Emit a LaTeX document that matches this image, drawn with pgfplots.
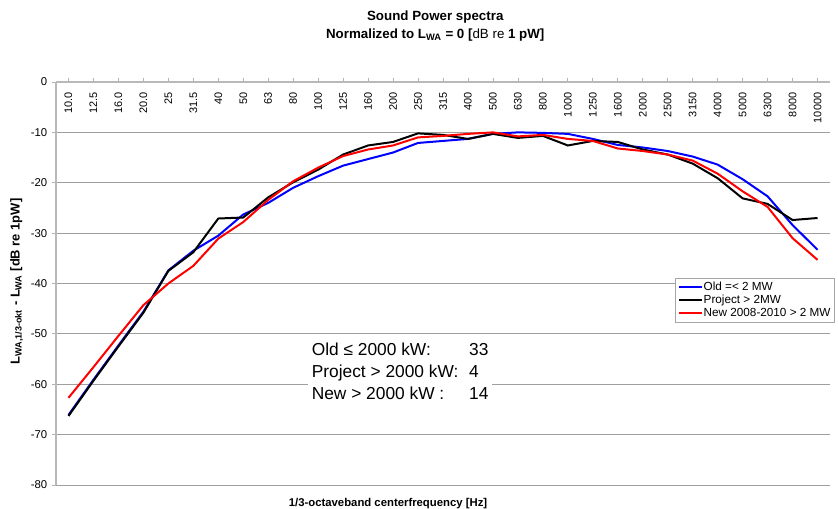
\documentclass[border=0pt]{standalone}
\usepackage{fontspec}
\setmainfont{Liberation Sans}
\usepackage{pgfplots}
\usepackage{pgfplotstable}
\pgfplotsset{compat=1.18}

% 1/3-octave band index, normalized levels per turbine group
\pgfplotstableread{
i   old    project  new
0   -66.1  -66.3   -62.7
1   -59.1  -59.3   -56.6
2   -52.3  -52.5   -50.4
3   -45.6  -45.8   -44.3
4   -37.4  -37.5   -40.0
5   -33.5  -33.8   -36.5
6   -30.5  -27.1   -31.1
7   -26.3  -26.9   -27.8
8   -24.0  -22.9   -23.4
9   -21.0  -19.9   -19.7
10  -18.7  -17.4   -17.0
11  -16.6  -14.4   -14.7
12  -15.3  -12.6   -13.4
13  -14.0  -11.9   -12.6
14  -12.1  -10.2   -11.0
15  -11.7  -10.5   -10.7
16  -11.3  -11.3   -10.3
17  -10.3  -10.3   -10.0
18  -10.0  -11.1   -10.8
19  -10.1  -10.7   -10.5
20  -10.3  -12.6   -11.3
21  -11.3  -11.7   -11.7
22  -12.5  -11.9   -13.2
23  -13.0  -13.4   -13.7
24  -13.7  -14.4   -14.4
25  -14.8  -16.2   -15.6
26  -16.4  -19.1   -18.2
27  -19.3  -23.1   -21.7
28  -22.7  -24.2   -24.8
29  -28.4  -27.4   -31.0
30  -33.3  -27.0   -35.3
}\spectra

\begin{document}
\begin{tikzpicture}
\begin{axis}[
  scale only axis, width=580.5pt, height=302.25pt,
  xmin=-0.5, xmax=30.5, ymin=-80, ymax=0,
  axis x line*=top, axis y line*=left,
  axis line style={gray!55, line width=1pt},
  tick style={gray!60, line width=0.6pt},
  tick align=outside, major tick length=3pt,
  xtick={0,...,30},
  xticklabels={10.0,12.5,16.0,20.0,25,31.5,40,50,63,80,100,125,160,200,250,
    315,400,500,630,800,1000,1250,1600,2000,2500,3150,4000,5000,6300,8000,10000},
  xticklabel style={font=\fontsize{8.2}{9}\selectfont, rotate=90, anchor=east},
  xticklabel shift=-7.5pt,
  ytick={-80,-70,-60,-50,-40,-30,-20,-10,0},
  yticklabels={-80,-70,-60,-50,-40,-30,-20,-10,0},
  yticklabel style={font=\fontsize{8.5}{10}\selectfont},
  ymajorgrids, grid style={gray!75, line width=0.7pt},
  title={Sound Power spectra\\Normalized to L\textsubscript{WA} = 0 [{\mdseries dB re} 1 pW]},
  title style={at={(axis description cs:0.49,1.118)}, anchor=center, align=center,
    font=\bfseries\fontsize{10}{13.5}\selectfont},
  xlabel={1/3-octaveband centerfrequency [Hz]},
  xlabel style={at={(axis description cs:0.429,-0.047)}, anchor=center,
    font=\bfseries\fontsize{8.5}{9}\selectfont},
  ylabel={L\textsubscript{WA,1/3-okt} - L\textsubscript{WA} [dB re 1pW]},
  ylabel style={at={(axis description cs:-0.051,0.505)}, anchor=center, rotate=0,
    font=\bfseries\fontsize{9.7}{11}\selectfont},
  legend style={at={(0.80,0.514)}, anchor=north west, draw=gray!70, fill=white,
    font=\fontsize{8.8}{9}\selectfont, row sep=0.4pt, inner sep=2pt,
    nodes={inner sep=0.6pt, text height=6.4pt, text depth=1.8pt}},
  legend cell align=left,
  legend image code/.code={\draw[#1] (0cm,0cm) -- (0.6cm,0cm);},
]
\addplot[blue, line width=1.5pt] table[x=i, y=old] {\spectra};
\addlegendentry{Old =< 2 MW}
\addplot[black, line width=1.5pt] table[x=i, y=project] {\spectra};
\addlegendentry{Project > 2MW}
\addplot[red, line width=1.5pt] table[x=i, y=new] {\spectra};
\addlegendentry{New 2008-2010 > 2 MW}

\node[anchor=north west, fill=white, inner sep=3pt,
      font=\fontsize{13}{16.5}\selectfont]
  at (rel axis cs:0.325,0.371) {%
  \begin{tabular}{@{}p{118pt}@{}l@{}}
  Old ≤ 2000 kW: & 33\\
  Project > 2000 kW: & 4\\
  New > 2000 kW : & 14
  \end{tabular}};
\end{axis}
\pgfresetboundingbox
\useasboundingbox (-42pt,-18pt) rectangle (586.5pt,363.75pt);
\end{tikzpicture}
\end{document}
